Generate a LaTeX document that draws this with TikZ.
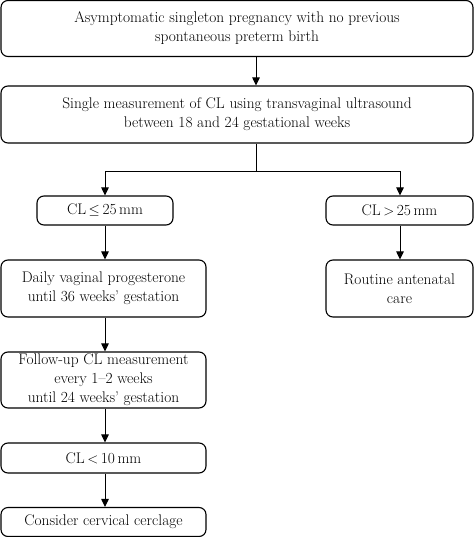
\documentclass[tikz,border=0pt]{standalone}
\usetikzlibrary{arrows.meta}
\begin{document}
\begin{tikzpicture}[x=1pt,y=-1pt,
  box/.style={draw, rounded corners=7pt, line width=1.1pt, align=center, inner sep=0pt, font=\fontsize{15.4}{19}\selectfont},
  arr/.style={-{Triangle[length=8pt,width=7.5pt]}, line width=1pt},
  ln/.style={line width=1pt}]
\useasboundingbox (0,0) rectangle (474,537);
\node[box, minimum width=472pt, minimum height=56pt] (a) at (237,28.5) {Asymptomatic singleton pregnancy with no previous\\spontaneous preterm birth};
\node[box, minimum width=472pt, minimum height=57pt] (b) at (237,114.5) {Single measurement of CL using transvaginal ultrasound\\between 18 and 24 gestational weeks};
\node[box, minimum width=136pt, minimum height=29pt] (c1) at (105,210.5) {CL\,$\leq$\,25\,mm};
\node[box, minimum width=147pt, minimum height=29pt] (c2) at (399.5,210.5) {CL\,$>$\,25\,mm};
\node[box, minimum width=205pt, minimum height=57pt] (d) at (103.5,288.5) {Daily vaginal progesterone\\until 36 weeks' gestation};
\node[box, minimum width=147pt, minimum height=57pt] (r) at (399.5,288.5) {Routine antenatal\\care};
\node[box, minimum width=205pt, minimum height=56pt] (f) at (103.5,380) {Follow-up CL measurement\\every 1--2 weeks\\until 24 weeks' gestation};
\node[box, minimum width=205pt, minimum height=30pt] (g) at (103.5,458) {CL\,$<$\,10\,mm};
\node[box, minimum width=205pt, minimum height=29pt] (h) at (103.5,522) {Consider cervical cerclage};
\coordinate (ax) at (256,0);
\coordinate (split) at (256,172);
\coordinate (lx) at (105,0);
\coordinate (rx) at (400,0);
\draw[arr] (a.south -| ax) -- (b.north -| ax);
\draw[ln] (b.south -| ax) -- (split);
\draw[arr] (split) -| (c1.north -| lx);
\draw[arr] (split) -| (c2.north -| rx);
\draw[arr] (c1.south -| lx) -- (d.north -| lx);
\draw[arr] (c2.south -| rx) -- (r.north -| rx);
\draw[arr] (d.south -| lx) -- (f.north -| lx);
\draw[arr] (f.south -| lx) -- (g.north -| lx);
\draw[arr] (g.south -| lx) -- (h.north -| lx);
\end{tikzpicture}
\end{document}
